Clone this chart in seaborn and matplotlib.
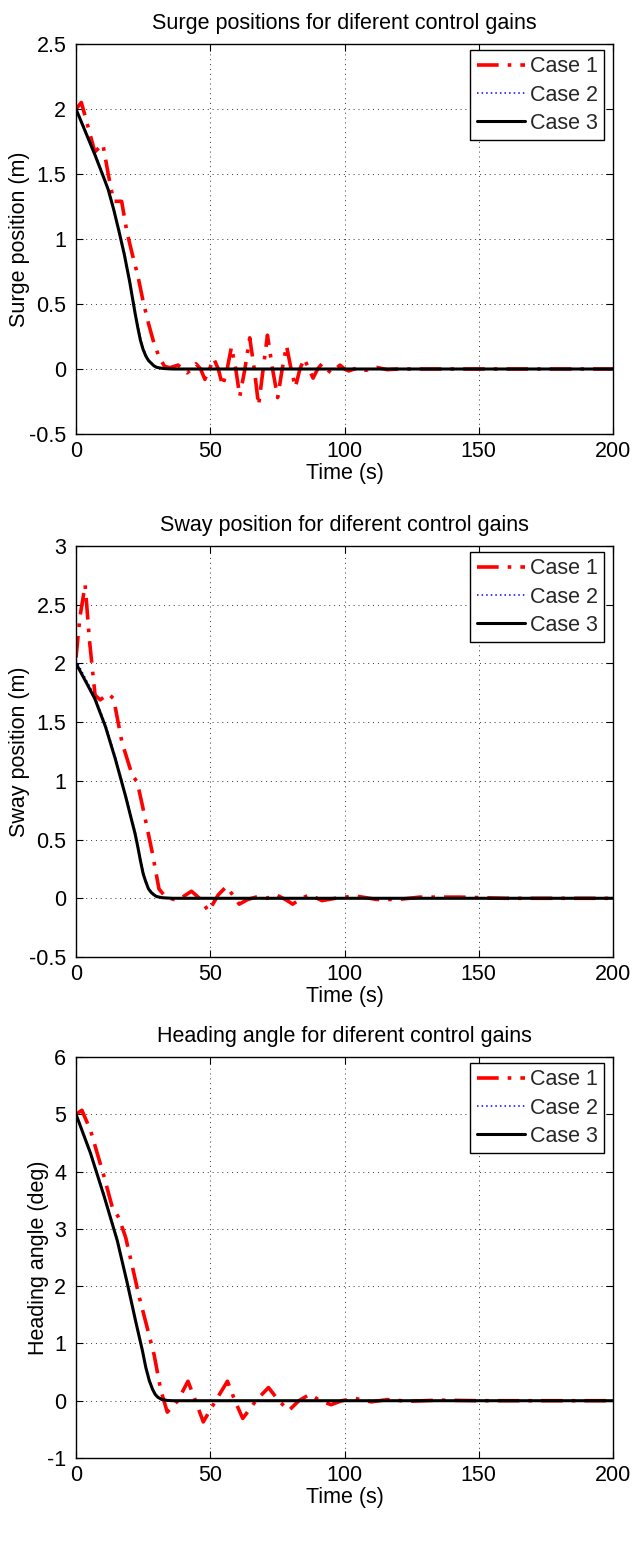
import numpy as np
import pandas as pd
import matplotlib
matplotlib.use("Agg")
import matplotlib.pyplot as plt
import seaborn as sns

# ---------------- data ----------------
case_labels = ["Case 1", "Case 2", "Case 3"]

# Surge
surge_t1 = [0, 2, 4, 7, 10, 12, 14, 17, 19, 21, 23, 25, 27, 29, 31, 33, 35, 38, 39.7, 41.4, 43.1,
            44.7, 46.4, 48, 49.7, 51.3, 53, 54.6, 56.3, 57.9, 59.5, 61, 62.9, 64.7, 66.4, 68, 69.7,
            71.3, 73.2, 75.1, 76.8, 78.4, 80.1, 81.7, 83.4, 85, 86.7, 88.3, 90, 91.6, 93.3, 95,
            96.7, 98.3, 100, 101.6, 105, 108, 112, 116, 120, 200]
surge_y1 = [2.0, 2.05, 1.9, 1.67, 1.73, 1.5, 1.29, 1.29, 1.05, 0.88, 0.72, 0.52, 0.35, 0.2, 0.09, 0.02, 0.01, 0.03, 0.0, -0.03, 0.0,
            0.04, 0.0, -0.08, 0.0, 0.08, 0.0, -0.13, 0.0, 0.17, 0.0, -0.21, 0.0, 0.24, 0.0, -0.28, 0.0,
            0.26, 0.0, -0.22, 0.0, 0.18, 0.0, -0.14, 0.0, 0.08, 0.0, -0.07, 0.0, 0.04, 0.0, -0.03,
            0.0, 0.03, 0.0, -0.015, 0.01, -0.01, 0.012, -0.005, 0.0, 0.0]
surge_t2 = [0, 3, 7, 10, 12, 14, 16, 18, 20, 21, 22, 23, 24, 25, 26, 27, 28, 29, 30, 32, 34, 36, 40, 200]
surge_y2 = [2.0, 1.86, 1.66, 1.50, 1.39, 1.24, 1.08, 0.90, 0.69, 0.57, 0.45, 0.34, 0.24, 0.16, 0.11, 0.07, 0.045, 0.028, 0.015, 0.006, 0.002, 0.0, 0.0, 0.0]
surge_t3 = [0, 3, 7, 10, 12, 14, 16, 18, 20, 21, 22, 23, 24, 25, 26, 27, 28, 29, 30, 32, 34, 36, 40, 200]
surge_y3 = [2.0, 1.85, 1.65, 1.49, 1.38, 1.23, 1.06, 0.88, 0.67, 0.55, 0.43, 0.32, 0.22, 0.15, 0.10, 0.065, 0.045, 0.025, 0.013, 0.005, 0.002, 0.0, 0.0, 0.0]

# Sway
sway_t1 = [0, 1.5, 3.4, 5, 7.1, 9, 12.1, 14, 17.1, 20.9, 22.8, 25.3, 28.4, 30.9, 33.4, 36.5, 39, 43, 46,
           49.4, 53, 56, 58, 60.8, 64, 67, 71, 74.5, 78, 80.7, 84, 87.1, 91.6, 96.6, 104, 112, 120,
           128, 143, 160, 200]
sway_y1 = [2.05, 2.4, 2.67, 2.2, 1.73, 1.69, 1.74, 1.70, 1.33, 1.05, 0.99, 0.73, 0.39, 0.08, 0.01, -0.01, 0.0, 0.06, 0.0,
           -0.11, 0.03, 0.1, 0.04, -0.05, -0.01, 0.01, 0.0, 0.03, -0.01, -0.05, 0.0, 0.03, -0.02, 0.0, 0.02, -0.01, -0.01,
           0.01, 0.01, 0.0, 0.0]
sway_t2 = [0, 4, 7, 11, 14.6, 18.4, 20, 22, 23, 24, 25, 26, 27, 28, 29, 30, 32, 34, 36, 200]
sway_y2 = [2.03, 1.85, 1.72, 1.48, 1.21, 0.89, 0.75, 0.57, 0.46, 0.34, 0.23, 0.15, 0.09, 0.055, 0.033, 0.017, 0.006, 0.002, 0.0, 0.0]
sway_t3 = [0, 4, 7, 11, 14.6, 18.4, 20, 22, 23, 24, 25, 26, 27, 28, 29, 30, 32, 34, 36, 200]
sway_y3 = [2.0, 1.83, 1.70, 1.46, 1.19, 0.875, 0.73, 0.55, 0.44, 0.32, 0.21, 0.14, 0.08, 0.05, 0.03, 0.015, 0.005, 0.002, 0.0, 0.0]

# Heading
head_t1 = [0, 2.2, 5.4, 7.9, 10.4, 13.5, 16, 18.5, 21, 23.5, 26.6, 29.1, 31.6, 34, 37.9, 41.7, 44.5,
           47.4, 52, 56.4, 59.2, 62.1, 67, 71.7, 75.5, 79.3, 83, 87, 91, 95, 99, 104, 110, 116,
           124, 135, 150, 200]
head_y1 = [5.0, 5.07, 4.72, 4.32, 3.92, 3.38, 3.19, 2.85, 2.34, 1.82, 1.26, 0.8, 0.18, -0.2, 0.0, 0.34, 0.0,
           -0.37, 0.0, 0.34, 0.0, -0.31, 0.0, 0.23, 0.0, -0.17, 0.0, 0.11, 0.0, -0.07, 0.0, 0.04, -0.02, 0.02,
           -0.01, 0.01, 0.0, 0.0]
head_t2 = [0, 5.4, 10.4, 15.4, 19.1, 22.3, 24.8, 26, 27.3, 28.5, 29.5, 30.5, 32, 34, 36, 200]
head_y2 = [5.0, 4.34, 3.61, 2.82, 2.09, 1.41, 0.89, 0.61, 0.37, 0.21, 0.12, 0.065, 0.022, 0.006, 0.0, 0.0]
head_t3 = [0, 5.4, 10.4, 15.4, 19.1, 22.3, 24.8, 26, 27.3, 28.5, 29.5, 30.5, 32, 34, 36, 200]
head_y3 = [5.0, 4.32, 3.58, 2.79, 2.05, 1.37, 0.86, 0.58, 0.35, 0.2, 0.11, 0.06, 0.02, 0.005, 0.0, 0.0]

titles = ["Surge positions for diferent control gains",
          "Sway position for diferent control gains",
          "Heading angle for diferent control gains"]
ylabels = ["Surge position (m)", "Sway position (m)", "Heading angle (deg)"]
xlabel = "Time (s)"
xticks = [0, 50, 100, 150, 200]
yticks_list = [[-0.5, 0, 0.5, 1, 1.5, 2, 2.5],
               [-0.5, 0, 0.5, 1, 1.5, 2, 2.5, 3],
               [-1, 0, 1, 2, 3, 4, 5, 6]]
ytick_labels_list = [["-0.5", "0", "0.5", "1", "1.5", "2", "2.5"],
                     ["-0.5", "0", "0.5", "1", "1.5", "2", "2.5", "3"],
                     ["-1", "0", "1", "2", "3", "4", "5", "6"]]

series = [
    [(surge_t1, surge_y1), (surge_t2, surge_y2), (surge_t3, surge_y3)],
    [(sway_t1, sway_y1), (sway_t2, sway_y2), (sway_t3, sway_y3)],
    [(head_t1, head_y1), (head_t2, head_y2), (head_t3, head_y3)],
]

# ---------------- style ----------------
sns.set_theme(style="white")
plt.rcParams['font.family'] = ['Liberation Sans', 'DejaVu Sans']
FS = 15.5

styles = [
    dict(color="#FF0000", lw=2.6, dashes=(6, 2.5, 1, 2.5)),
    dict(color="#0000FF", lw=1.1, dashes=(1, 2)),
    dict(color="#000000", lw=2.2, dashes=None),
]

fig = plt.figure(figsize=(6.32, 15.48), dpi=100)
# axes boxes in pixels: (left, top, right, bottom)
boxes = [(76, 44, 613, 434), (76, 546, 613, 957), (76, 1057, 613, 1458)]

for i in range(3):
    l, t_, r, b = boxes[i]
    ax = fig.add_axes([l/632, 1 - b/1548, (r - l)/632, (b - t_)/1548])
    for j, (t, y) in enumerate(series[i]):
        df = pd.DataFrame({"t": t, "y": y})
        st = styles[j]
        sns.lineplot(data=df, x="t", y="y", ax=ax, label=case_labels[j],
                     sort=False, estimator=None, color=st["color"], lw=st["lw"])
        ln = ax.get_lines()[-1]
        if st["dashes"] is not None:
            ln.set_dashes(st["dashes"])
    ax.set_xlim(0, 200)
    yt = yticks_list[i]
    ax.set_ylim(yt[0], yt[-1])
    ax.set_xticks(xticks)
    ax.set_xticklabels([str(v) for v in xticks], fontsize=FS)
    ax.set_yticks(yt)
    ax.set_yticklabels(ytick_labels_list[i], fontsize=FS)
    ax.tick_params(direction="in", length=5, width=0.8, top=True, right=True,
                   bottom=True, left=True, pad=5, colors="black")
    ax.tick_params(axis="y", pad=7)
    ax.grid(True, color="black", linestyle=(0, (1, 4)), linewidth=0.7, alpha=0.8)
    for sp in ax.spines.values():
        sp.set_visible(True)
        sp.set_color("black")
        sp.set_linewidth(1.0)
    ax.set_title(titles[i], fontsize=FS, pad=11, color="black")
    ax.set_xlabel(xlabel, fontsize=FS, labelpad=1, color="black")
    ax.set_ylabel(ylabels[i], fontsize=FS, labelpad=-1, color="black")
    h_px = b - t_
    leg = ax.legend(loc="upper right", bbox_to_anchor=((604 - l)/(r - l), 1 - 6/h_px),
                    borderaxespad=0, fontsize=FS, frameon=True, fancybox=False,
                    edgecolor="black", framealpha=1, handlelength=2.25,
                    labelspacing=0.33, borderpad=0.3, handletextpad=0.2)
    leg.get_frame().set_linewidth(1.0)
    for h, st in zip(leg.get_lines(), styles):
        if st["dashes"] is not None:
            h.set_dashes(st["dashes"])

fig.savefig("out.png", dpi=100)
